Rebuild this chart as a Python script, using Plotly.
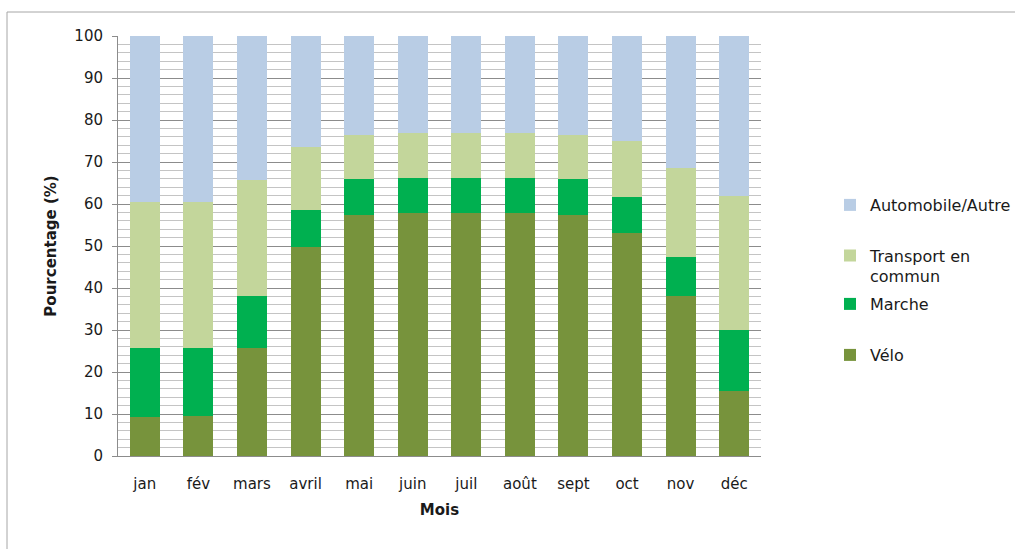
import plotly.graph_objects as go

# Part modale mensuelle des déplacements (%)
mois = ["jan", "fév", "mars", "avril", "mai", "juin", "juil", "août", "sept", "oct", "nov", "déc"]
velo = [9.4, 9.6, 25.7, 49.8, 57.4, 57.8, 57.8, 57.8, 57.4, 53.2, 38.0, 15.4]
marche = [16.3, 16.1, 12.3, 8.8, 8.5, 8.4, 8.4, 8.4, 8.5, 8.4, 9.5, 14.5]
transport = [34.7, 34.7, 27.8, 14.9, 10.6, 10.8, 10.8, 10.8, 10.6, 13.4, 21.0, 32.1]
auto = [39.6, 39.6, 34.2, 26.5, 23.5, 23.0, 23.0, 23.0, 23.5, 25.0, 31.5, 38.0]

series = [
    ("Vélo", velo, "#77933C", "legend4"),
    ("Marche", marche, "#00B050", "legend3"),
    ("Transport en<br>commun", transport, "#C3D69B", "legend2"),
    ("Automobile/Autre", auto, "#B9CDE5", "legend5"),
]

FONT = "DejaVu Sans"
TXT = "#1a1a1a"
GRID = "#8c8c8c"

W, H = 1015, 549
L, R, T, B = 118, 254, 36, 93
PW, PH = W - L - R, H - T - B


def px_x(px):
    return (px - L) / PW


def px_y(py):
    return (H - B - py) / PH


fig = go.Figure()
for name, vals, color, leg in series:
    fig.add_trace(go.Bar(
        x=mois, y=vals, name=name, marker=dict(color=color, line=dict(width=0)),
        legend=leg,
    ))

legend_common = dict(
    xanchor="left", yanchor="middle", bgcolor="rgba(0,0,0,0)",
    font=dict(family=FONT, size=16, color=TXT), valign="top",
)
leg_x = px_x(830)
fig.update_layout(
    width=W, height=H,
    margin=dict(l=L, r=R, t=T, b=B, autoexpand=False),
    barmode="stack", bargap=0.44,
    plot_bgcolor="white", paper_bgcolor="white",
    font=dict(family=FONT, size=15, color=TXT),
    legend5=dict(x=leg_x, y=px_y(205), **legend_common),
    legend2=dict(x=leg_x, y=px_y(266), **legend_common),
    legend3=dict(x=leg_x, y=px_y(304), **legend_common),
    legend4=dict(x=leg_x, y=px_y(355), **legend_common),
    xaxis=dict(
        showline=True, linecolor=GRID, linewidth=1, showgrid=False,
        ticks="outside", ticklen=14, tickcolor="rgba(0,0,0,0)",
        tickfont=dict(family=FONT, size=15, color=TXT),
        title=dict(text="<b>Mois</b>", font=dict(family=FONT, size=15, color=TXT), standoff=12),
    ),
    yaxis=dict(
        range=[0, 100], dtick=10, tick0=0,
        showline=True, linecolor=GRID, linewidth=1,
        ticks="outside", ticklen=5, tickcolor=GRID,
        showgrid=True, gridcolor=GRID, gridwidth=1,
        minor=dict(dtick=2, showgrid=True, gridcolor="#c4c4c4", gridwidth=1),
        tickfont=dict(family=FONT, size=15, color=TXT),
        ticklabelstandoff=6,
        title=dict(text="<b>Pourcentage (%)</b>", font=dict(family=FONT, size=15, color=TXT), standoff=14),
        zeroline=False,
    ),
    shapes=[dict(
        type="rect", xref="paper", yref="paper",
        x0=px_x(7), x1=px_x(1030), y0=px_y(560), y1=px_y(12),
        line=dict(color="#a6a6a6", width=1), fillcolor="rgba(0,0,0,0)", layer="below",
    )],
)

fig.write_html("out.html")
